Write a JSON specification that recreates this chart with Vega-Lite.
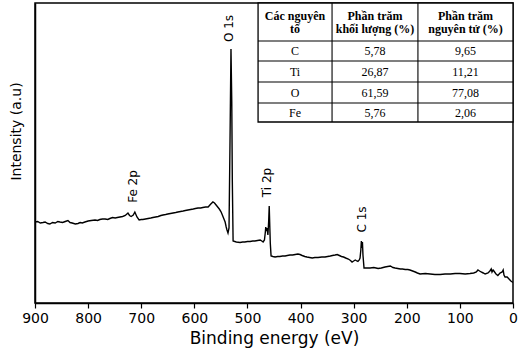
{
  "$schema": "https://vega.github.io/schema/vega-lite/v6.json",
  "width": 478,
  "height": 300,
  "autosize": {"type": "none"},
  "padding": {"left": 35, "top": 3, "right": 8, "bottom": 51},
  "background": "white",
  "config": {
    "view": {"stroke": "black", "strokeWidth": 1.5},
    "axis": {"labelFont": "DejaVu Sans", "titleFont": "DejaVu Sans", "labelColor": "black", "titleColor": "black", "domainColor": "black", "tickColor": "black", "grid": false, "titleFontWeight": "normal"}
  },
  "datasets": {
    "spectrum": [
      {"be": 900, "intensity": 81}, {"be": 895, "intensity": 81.5}, {"be": 890, "intensity": 80}, {"be": 885, "intensity": 80.5}, {"be": 881, "intensity": 81}, {"be": 876, "intensity": 79.5}, {"be": 872, "intensity": 79}, {"be": 867, "intensity": 80.5}, {"be": 862, "intensity": 80}, {"be": 857, "intensity": 81.5}, {"be": 853, "intensity": 81}, {"be": 848, "intensity": 80.5}, {"be": 843, "intensity": 81.5}, {"be": 838, "intensity": 82.5}, {"be": 834, "intensity": 80.5}, {"be": 830, "intensity": 80}, {"be": 824, "intensity": 79}, {"be": 819, "intensity": 79.5}, {"be": 815, "intensity": 80.5}, {"be": 811, "intensity": 80}, {"be": 806, "intensity": 81}, {"be": 800, "intensity": 82}, {"be": 794, "intensity": 82.5}, {"be": 787, "intensity": 83}, {"be": 782, "intensity": 82.5}, {"be": 778, "intensity": 83.5}, {"be": 773, "intensity": 84}, {"be": 768, "intensity": 84}, {"be": 763, "intensity": 83.5}, {"be": 759, "intensity": 84.5}, {"be": 754, "intensity": 85.5}, {"be": 749, "intensity": 85}, {"be": 745, "intensity": 85.5}, {"be": 740, "intensity": 86}, {"be": 735, "intensity": 86.5}, {"be": 730, "intensity": 87.5}, {"be": 725, "intensity": 90}, {"be": 722, "intensity": 87.5}, {"be": 719, "intensity": 86.5}, {"be": 715, "intensity": 88}, {"be": 712, "intensity": 91}, {"be": 708, "intensity": 86}, {"be": 704, "intensity": 83}, {"be": 700, "intensity": 83.5}, {"be": 697, "intensity": 83.5}, {"be": 692, "intensity": 84}, {"be": 687, "intensity": 84.5}, {"be": 682, "intensity": 85}, {"be": 678, "intensity": 85.5}, {"be": 673, "intensity": 86}, {"be": 668, "intensity": 86.5}, {"be": 663, "intensity": 87.5}, {"be": 659, "intensity": 88}, {"be": 654, "intensity": 88.5}, {"be": 650, "intensity": 89}, {"be": 645, "intensity": 89.5}, {"be": 640, "intensity": 90}, {"be": 635, "intensity": 90.5}, {"be": 631, "intensity": 91}, {"be": 626, "intensity": 91.5}, {"be": 621, "intensity": 92}, {"be": 617, "intensity": 92.5}, {"be": 612, "intensity": 93}, {"be": 607, "intensity": 93.5}, {"be": 602, "intensity": 94}, {"be": 598, "intensity": 94.5}, {"be": 593, "intensity": 95}, {"be": 588, "intensity": 95}, {"be": 584, "intensity": 95.5}, {"be": 579, "intensity": 96}, {"be": 574, "intensity": 96}, {"be": 569, "intensity": 99}, {"be": 565, "intensity": 101}, {"be": 562, "intensity": 100}, {"be": 559, "intensity": 98}, {"be": 556, "intensity": 96}, {"be": 553, "intensity": 94}, {"be": 550, "intensity": 91.5}, {"be": 548, "intensity": 89}, {"be": 545, "intensity": 85}, {"be": 542, "intensity": 81}, {"be": 540, "intensity": 76}, {"be": 538.5, "intensity": 73}, {"be": 536.6, "intensity": 70}, {"be": 534.7, "intensity": 75}, {"be": 533, "intensity": 153}, {"be": 531, "intensity": 254}, {"be": 529.5, "intensity": 200}, {"be": 528.5, "intensity": 123}, {"be": 527, "intensity": 62},
      {"be": 521, "intensity": 61}, {"be": 514, "intensity": 60.5}, {"be": 509, "intensity": 61}, {"be": 505, "intensity": 61}, {"be": 500, "intensity": 61.5}, {"be": 495, "intensity": 61.5}, {"be": 490, "intensity": 62}, {"be": 486, "intensity": 62}, {"be": 481, "intensity": 62.5}, {"be": 476, "intensity": 63}, {"be": 473, "intensity": 62}, {"be": 470.5, "intensity": 61}, {"be": 468, "intensity": 63}, {"be": 466.5, "intensity": 70}, {"be": 465.5, "intensity": 76}, {"be": 464.5, "intensity": 72}, {"be": 463, "intensity": 75}, {"be": 461.5, "intensity": 68}, {"be": 460, "intensity": 82}, {"be": 459, "intensity": 97}, {"be": 458, "intensity": 78}, {"be": 457, "intensity": 60}, {"be": 455.5, "intensity": 47},
      {"be": 452, "intensity": 46.5}, {"be": 448, "intensity": 46}, {"be": 443, "intensity": 46.5}, {"be": 439, "intensity": 46.5}, {"be": 434, "intensity": 47}, {"be": 429, "intensity": 47}, {"be": 425, "intensity": 47.5}, {"be": 420, "intensity": 48}, {"be": 415, "intensity": 48}, {"be": 410, "intensity": 48.5}, {"be": 405, "intensity": 49}, {"be": 401, "intensity": 48.5}, {"be": 397, "intensity": 47.5}, {"be": 392, "intensity": 46.5}, {"be": 388, "intensity": 46}, {"be": 383, "intensity": 45.5}, {"be": 378, "intensity": 45}, {"be": 373, "intensity": 45.5}, {"be": 367, "intensity": 45.5}, {"be": 360, "intensity": 46}, {"be": 354, "intensity": 46}, {"be": 349, "intensity": 46.5}, {"be": 344, "intensity": 47}, {"be": 340, "intensity": 47.5}, {"be": 335, "intensity": 48}, {"be": 331, "intensity": 48.5}, {"be": 327, "intensity": 47.5}, {"be": 323, "intensity": 46.5}, {"be": 319, "intensity": 46}, {"be": 315, "intensity": 45}, {"be": 310, "intensity": 44}, {"be": 306, "intensity": 42.5}, {"be": 303, "intensity": 41}, {"be": 300, "intensity": 42}, {"be": 297, "intensity": 43}, {"be": 294, "intensity": 42}, {"be": 292, "intensity": 41.5}, {"be": 289.5, "intensity": 43}, {"be": 288, "intensity": 45}, {"be": 286.5, "intensity": 53}, {"be": 285.5, "intensity": 62}, {"be": 284.5, "intensity": 55}, {"be": 283.5, "intensity": 61}, {"be": 282.5, "intensity": 48}, {"be": 280.5, "intensity": 35},
      {"be": 275, "intensity": 35}, {"be": 269, "intensity": 35}, {"be": 262, "intensity": 35.5}, {"be": 254, "intensity": 34.5}, {"be": 248, "intensity": 35}, {"be": 241, "intensity": 36}, {"be": 236, "intensity": 36.5}, {"be": 231, "intensity": 37}, {"be": 226, "intensity": 35.5}, {"be": 222, "intensity": 35}, {"be": 217, "intensity": 34.5}, {"be": 212, "intensity": 34}, {"be": 208, "intensity": 34}, {"be": 203, "intensity": 33.5}, {"be": 198, "intensity": 33.5}, {"be": 194, "intensity": 33}, {"be": 189, "intensity": 32}, {"be": 184, "intensity": 31}, {"be": 180, "intensity": 30}, {"be": 175, "intensity": 29}, {"be": 165, "intensity": 29.5}, {"be": 156, "intensity": 29}, {"be": 147, "intensity": 28.5}, {"be": 137, "intensity": 28.5}, {"be": 128, "intensity": 29}, {"be": 118, "intensity": 29}, {"be": 109, "intensity": 29.5}, {"be": 100, "intensity": 29.5}, {"be": 90, "intensity": 29}, {"be": 81, "intensity": 29.5}, {"be": 74, "intensity": 30}, {"be": 69, "intensity": 31}, {"be": 66, "intensity": 33}, {"be": 63, "intensity": 32}, {"be": 60, "intensity": 31}, {"be": 56, "intensity": 30}, {"be": 52.5, "intensity": 29}, {"be": 47, "intensity": 30}, {"be": 43.5, "intensity": 32}, {"be": 41, "intensity": 34}, {"be": 39.5, "intensity": 31}, {"be": 37.5, "intensity": 33}, {"be": 36, "intensity": 32}, {"be": 32, "intensity": 29}, {"be": 28.5, "intensity": 27.5}, {"be": 24.5, "intensity": 30}, {"be": 20.5, "intensity": 31}, {"be": 18.5, "intensity": 33}, {"be": 17, "intensity": 28}, {"be": 15, "intensity": 26}, {"be": 11, "intensity": 26}, {"be": 7.5, "intensity": 24}, {"be": 4, "intensity": 22}, {"be": 0, "intensity": 20.5}
    ],
    "peaks": [
      {"label": "O 1s", "be": 535, "intensity": 274.5},
      {"label": "Fe 2p", "be": 715.5, "intensity": 116.5},
      {"label": "Ti 2p", "be": 463, "intensity": 120.5},
      {"label": "C 1s", "be": 284, "intensity": 83.5}
    ],
    "tableBox": [
      {"be": 480, "be2": 0, "intensity": 300, "intensity2": 181}
    ],
    "tableLines": [
      {"be": 480, "be2": 0, "intensity": 262, "intensity2": 262},
      {"be": 480, "be2": 0, "intensity": 242, "intensity2": 242},
      {"be": 480, "be2": 0, "intensity": 221, "intensity2": 221},
      {"be": 480, "be2": 0, "intensity": 200, "intensity2": 200},
      {"be": 340.7, "be2": 340.7, "intensity": 300, "intensity2": 181},
      {"be": 179, "be2": 179, "intensity": 300, "intensity2": 181}
    ],
    "tableHeader": [
      {"text": "Các nguyên", "be": 410.4, "intensity": 287.5},
      {"text": "tố", "be": 410.4, "intensity": 274},
      {"text": "Phần trăm", "be": 259.8, "intensity": 287.5},
      {"text": "khối lượng (%)", "be": 259.8, "intensity": 274},
      {"text": "Phần trăm", "be": 89.4, "intensity": 287.5},
      {"text": "nguyên tử (%)", "be": 89.4, "intensity": 274}
    ],
    "tableBody": [
      {"text": "C", "be": 410.4, "intensity": 252},
      {"text": "5,78", "be": 259.8, "intensity": 252},
      {"text": "9,65", "be": 89.4, "intensity": 252},
      {"text": "Ti", "be": 410.4, "intensity": 231.5},
      {"text": "26,87", "be": 259.8, "intensity": 231.5},
      {"text": "11,21", "be": 89.4, "intensity": 231.5},
      {"text": "O", "be": 410.4, "intensity": 210.5},
      {"text": "61,59", "be": 259.8, "intensity": 210.5},
      {"text": "77,08", "be": 89.4, "intensity": 210.5},
      {"text": "Fe", "be": 410.4, "intensity": 190.5},
      {"text": "5,76", "be": 259.8, "intensity": 190.5},
      {"text": "2,06", "be": 89.4, "intensity": 190.5}
    ]
  },
  "layer": [
    {
      "data": {"name": "spectrum"},
      "mark": {"type": "line", "color": "black", "strokeWidth": 1.4, "clip": true},
      "encoding": {
        "x": {
          "field": "be", "type": "quantitative",
          "scale": {"domain": [900, 0], "nice": false, "zero": false},
          "axis": {
            "title": "Binding energy (eV)", "titleFontSize": 17, "titlePadding": 5,
            "values": [900, 850, 800, 750, 700, 650, 600, 550, 500, 450, 400, 350, 300, 250, 200, 150, 100, 50, 0],
            "labelExpr": "datum.value % 100 === 0 ? datum.label : ''",
            "format": "d", "labelFontSize": 14, "labelPadding": 3, "labelFlush": false, "labelOverlap": false,
            "tickSize": {"condition": {"test": "datum.value % 100 === 0", "value": 5}, "value": 3},
            "tickWidth": 1.2, "domainWidth": 1.5
          }
        },
        "y": {
          "field": "intensity", "type": "quantitative",
          "scale": {"domain": [0, 300], "nice": false, "zero": false},
          "axis": {"title": "Intensity (a.u)", "labels": false, "ticks": false, "titleFontSize": 14, "titlePadding": 12, "titleY": 128, "domainWidth": 1.5}
        }
      }
    },
    {
      "data": {"name": "peaks"},
      "mark": {"type": "text", "angle": 270, "font": "DejaVu Sans", "fontSize": 12, "align": "center", "baseline": "middle", "color": "black"},
      "encoding": {
        "x": {"field": "be", "type": "quantitative"},
        "y": {"field": "intensity", "type": "quantitative"},
        "text": {"field": "label"}
      }
    },
    {
      "data": {"name": "tableBox"},
      "mark": {"type": "rect", "fill": "white", "stroke": "black", "strokeWidth": 1.3},
      "encoding": {
        "x": {"field": "be", "type": "quantitative"},
        "x2": {"field": "be2"},
        "y": {"field": "intensity", "type": "quantitative"},
        "y2": {"field": "intensity2"}
      }
    },
    {
      "data": {"name": "tableLines"},
      "mark": {"type": "rule", "color": "black", "strokeWidth": 1.1},
      "encoding": {
        "x": {"field": "be", "type": "quantitative"},
        "x2": {"field": "be2"},
        "y": {"field": "intensity", "type": "quantitative"},
        "y2": {"field": "intensity2"}
      }
    },
    {
      "data": {"name": "tableHeader"},
      "mark": {"type": "text", "font": "Liberation Serif", "fontSize": 12, "fontWeight": "bold", "align": "center", "baseline": "middle", "color": "black"},
      "encoding": {
        "x": {"field": "be", "type": "quantitative"},
        "y": {"field": "intensity", "type": "quantitative"},
        "text": {"field": "text"}
      }
    },
    {
      "data": {"name": "tableBody"},
      "mark": {"type": "text", "font": "Liberation Serif", "fontSize": 12, "align": "center", "baseline": "middle", "color": "black"},
      "encoding": {
        "x": {"field": "be", "type": "quantitative"},
        "y": {"field": "intensity", "type": "quantitative"},
        "text": {"field": "text"}
      }
    }
  ]
}
